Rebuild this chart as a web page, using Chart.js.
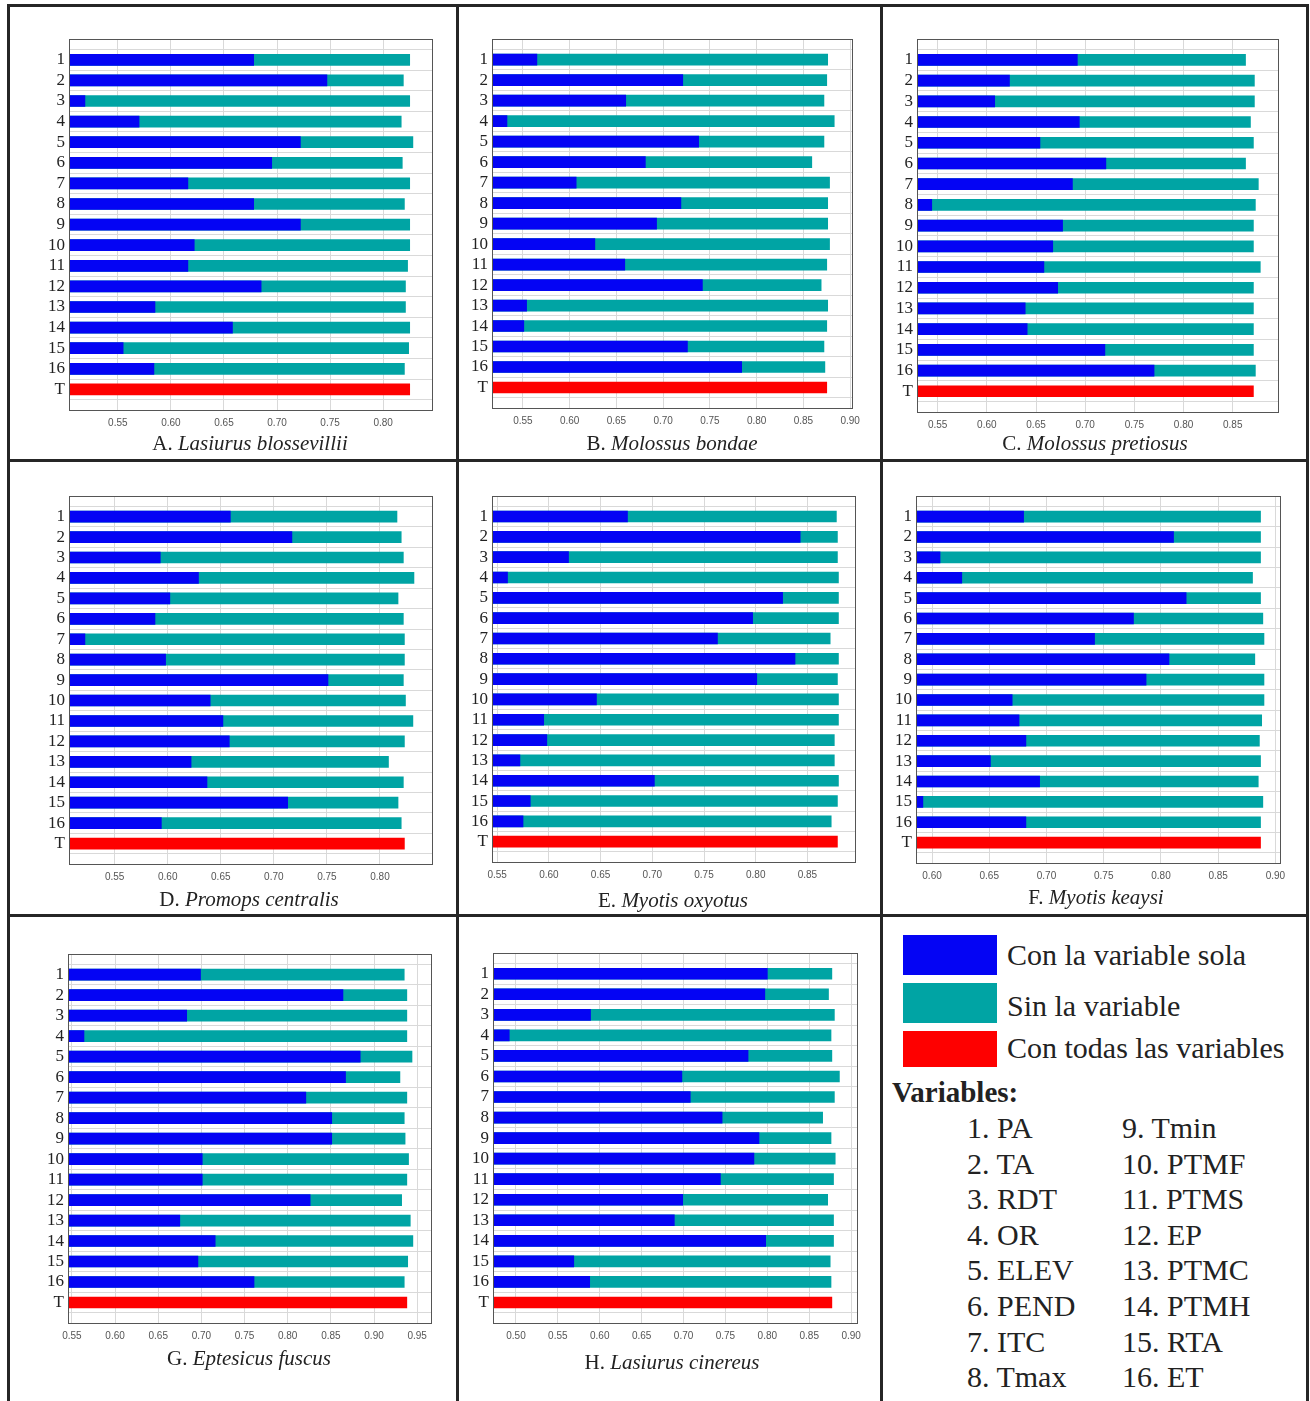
<!DOCTYPE html>
<html>
<head>
<meta charset="utf-8">
<script src="https://cdn.jsdelivr.net/npm/chart.js@4.4.0/dist/chart.umd.min.js"></script>
<style>
  body { margin: 0; background: #fff; }
  #page { position: relative; width: 1310px; height: 1401px; overflow: hidden; background: #fff;
          font-family: "Liberation Serif", "Times New Roman", serif; color: #222; }
  .line { position: absolute; background: #262626; }
  canvas { position: absolute; }
  .cap { position: absolute; width: 400px; text-align: center; font-size: 21px; line-height: 24px; white-space: nowrap; }
  .box { position: absolute; width: 94px; }
  .leg { position: absolute; font-size: 30px; line-height: 32px; white-space: nowrap; }
</style>
</head>
<body>
<div id="page"></div>
<script>
// rows of every panel: variables 1..16 and T (todas)
const rowLabels = ["1", "2", "3", "4", "5", "6", "7", "8", "9", "10", "11", "12", "13", "14", "15", "16", "T"];

// A. Lasiurus blossevillii
const solaA = [0.678, 0.747, 0.519, 0.570, 0.722, 0.695, 0.616, 0.678, 0.722, 0.622, 0.616, 0.685, 0.585, 0.658, 0.555, 0.584];
const sinA  = [0.825, 0.819, 0.825, 0.817, 0.828, 0.818, 0.825, 0.820, 0.825, 0.825, 0.823, 0.821, 0.821, 0.825, 0.824, 0.820];
// B. Molossus bondae
const solaB = [0.565, 0.721, 0.660, 0.533, 0.738, 0.681, 0.607, 0.719, 0.693, 0.627, 0.659, 0.742, 0.554, 0.551, 0.726, 0.784];
const sinB  = [0.876, 0.875, 0.872, 0.883, 0.872, 0.859, 0.878, 0.876, 0.876, 0.878, 0.875, 0.869, 0.876, 0.875, 0.872, 0.873];
// C. Molossus pretiosus
const solaC = [0.692, 0.623, 0.608, 0.694, 0.654, 0.721, 0.687, 0.544, 0.677, 0.667, 0.658, 0.672, 0.639, 0.641, 0.720, 0.770];
const sinC  = [0.863, 0.872, 0.872, 0.868, 0.871, 0.863, 0.876, 0.873, 0.871, 0.871, 0.878, 0.871, 0.871, 0.871, 0.871, 0.873];
// D. Promops centralis
const solaD = [0.659, 0.717, 0.593, 0.629, 0.602, 0.588, 0.522, 0.598, 0.751, 0.640, 0.652, 0.658, 0.622, 0.637, 0.713, 0.594];
const sinD  = [0.816, 0.820, 0.822, 0.832, 0.817, 0.822, 0.823, 0.823, 0.822, 0.824, 0.831, 0.823, 0.808, 0.822, 0.817, 0.820];
// E. Myotis oxyotus
const solaE = [0.676, 0.843, 0.619, 0.560, 0.826, 0.797, 0.763, 0.838, 0.801, 0.646, 0.595, 0.598, 0.572, 0.702, 0.582, 0.575];
const sinE  = [0.878, 0.879, 0.879, 0.880, 0.880, 0.880, 0.872, 0.880, 0.879, 0.880, 0.880, 0.876, 0.876, 0.880, 0.879, 0.873];
// F. Myotis keaysi
const solaF = [0.680, 0.811, 0.607, 0.626, 0.822, 0.776, 0.742, 0.807, 0.787, 0.670, 0.676, 0.682, 0.651, 0.694, 0.592, 0.682];
const sinF  = [0.887, 0.887, 0.887, 0.880, 0.887, 0.889, 0.890, 0.882, 0.890, 0.890, 0.888, 0.886, 0.887, 0.885, 0.889, 0.887];
// G. Eptesicus fuscus
const solaG = [0.699, 0.864, 0.683, 0.564, 0.884, 0.867, 0.821, 0.851, 0.851, 0.701, 0.701, 0.826, 0.675, 0.716, 0.696, 0.761];
const sinG  = [0.935, 0.938, 0.938, 0.938, 0.944, 0.930, 0.938, 0.935, 0.936, 0.940, 0.938, 0.932, 0.942, 0.945, 0.939, 0.935];
// H. Lasiurus cinereus
const solaH = [0.800, 0.797, 0.589, 0.492, 0.777, 0.698, 0.708, 0.746, 0.790, 0.784, 0.744, 0.699, 0.689, 0.798, 0.569, 0.588];
const sinH  = [0.877, 0.873, 0.880, 0.876, 0.877, 0.886, 0.880, 0.866, 0.876, 0.881, 0.879, 0.872, 0.879, 0.879, 0.875, 0.876];

// T bar (con todas las variables), panels A..H
const todas = [0.825, 0.875, 0.871, 0.823, 0.879, 0.887, 0.938, 0.877];

// x tick labels per panel
const ticksA = [0.55, 0.60, 0.65, 0.70, 0.75, 0.80];
const ticksB = [0.55, 0.60, 0.65, 0.70, 0.75, 0.80, 0.85, 0.90];
const ticksC = [0.55, 0.60, 0.65, 0.70, 0.75, 0.80, 0.85];
const ticksD = [0.55, 0.60, 0.65, 0.70, 0.75, 0.80];
const ticksE = [0.55, 0.60, 0.65, 0.70, 0.75, 0.80, 0.85];
const ticksF = [0.60, 0.65, 0.70, 0.75, 0.80, 0.85, 0.90];
const ticksG = [0.55, 0.60, 0.65, 0.70, 0.75, 0.80, 0.85, 0.90, 0.95];
const ticksH = [0.50, 0.55, 0.60, 0.65, 0.70, 0.75, 0.80, 0.85, 0.90];

const speciesNames = [
  ["A.", "Lasiurus blossevillii"], ["B.", "Molossus bondae"], ["C.", "Molossus pretiosus"],
  ["D.", "Promops centralis"], ["E.", "Myotis oxyotus"], ["F.", "Myotis keaysi"],
  ["G.", "Eptesicus fuscus"], ["H.", "Lasiurus cinereus"]
];
const legendLabels = ["Con la variable sola", "Sin la variable", "Con todas las variables"];
const variableNames = ["PA", "TA", "RDT", "OR", "ELEV", "PEND", "ITC", "Tmax",
                       "Tmin", "PTMF", "PTMS", "EP", "PTMC", "PTMH", "RTA", "ET"];

const BLUE = "#0404f4";
const TEAL = "#00a4a4";
const RED = "#fe0000";

const page = document.getElementById("page");

// plot boxes (pixel frame of each axes) and axis limits
const panels = [
  { sola: solaA, sin: sinA, ticks: ticksA, box: [69, 37, 363, 373],  min: 0.504, max: 0.846, cap: [250, 443] },
  { sola: solaB, sin: sinB, ticks: ticksB, box: [492, 37, 360, 371], min: 0.517, max: 0.902, cap: [672, 443] },
  { sola: solaC, sin: sinC, ticks: ticksC, box: [917, 37, 361, 375], min: 0.529, max: 0.896, cap: [1095, 443] },
  { sola: solaD, sin: sinD, ticks: ticksD, box: [69, 494, 363, 370], min: 0.507, max: 0.849, cap: [249, 899] },
  { sola: solaE, sin: sinE, ticks: ticksE, box: [492, 494, 363, 368], min: 0.545, max: 0.896, cap: [673, 900] },
  { sola: solaF, sin: sinF, ticks: ticksF, box: [916, 494, 364, 369], min: 0.586, max: 0.904, cap: [1096, 897] },
  { sola: solaG, sin: sinG, ticks: ticksG, box: [68, 952, 363, 371],  min: 0.5455, max: 0.966, cap: [249, 1358] },
  { sola: solaH, sin: sinH, ticks: ticksH, box: [493, 951, 364, 372], min: 0.4726, max: 0.907, cap: [672, 1362] }
];

// box around the plotting area
const framePlugin = {
  id: "frame",
  afterDraw(chart) {
    const a = chart.chartArea, ctx = chart.ctx;
    ctx.save();
    ctx.strokeStyle = "#555";
    ctx.lineWidth = 1;
    ctx.strokeRect(Math.round(a.left) + 0.5, Math.round(a.top) + 0.5,
                   Math.round(a.right - a.left), Math.round(a.bottom - a.top));
    ctx.restore();
  }
};

const padTop = 12, yAxisW = 40, padRight = 16, xAxisH = 26;

panels.forEach((p, i) => {
  const [bx, by, bw, bh] = p.box;
  const canvas = document.createElement("canvas");
  canvas.width = yAxisW + bw + padRight;
  canvas.height = padTop + bh + xAxisH;
  canvas.style.left = (bx - yAxisW) + "px";
  canvas.style.top = (by - padTop) + "px";
  page.appendChild(canvas);

  const tot = rowLabels.map((r) => null);
  tot[rowLabels.length - 1] = todas[i];

  new Chart(canvas, {
    type: "bar",
    data: {
      labels: ["", ...rowLabels, ""],
      datasets: [
        { label: legendLabels[0], data: [null, ...p.sola, null, null], backgroundColor: BLUE },
        { label: legendLabels[1], data: [null, ...p.sin, null, null], backgroundColor: TEAL },
        { label: legendLabels[2], data: [null, ...tot, null], backgroundColor: RED }
      ]
    },
    options: {
      indexAxis: "y",
      responsive: false,
      animation: false,
      devicePixelRatio: 1,
      layout: { padding: { top: padTop, right: padRight, left: 0, bottom: 0 } },
      datasets: { bar: { grouped: false, barThickness: 11 } },
      plugins: { legend: { display: false }, tooltip: { enabled: false } },
      scales: {
        x: {
          type: "linear",
          min: p.min,
          max: p.max,
          afterBuildTicks: (axis) => { axis.ticks = p.ticks.map((v) => ({ value: v })); },
          afterFit: (s) => { s.height = xAxisH; },
          grid: { color: "#d9d9d9", drawTicks: false },
          border: { color: "#555" },
          ticks: {
            padding: 7,
            color: "#555",
            font: { family: "Liberation Sans", size: 10 },
            callback: (v) => Number(v).toFixed(2)
          }
        },
        y: {
          type: "category",
          offset: false,
          afterFit: (s) => { s.width = yAxisW; },
          grid: { color: "#d9d9d9", drawTicks: false },
          border: { color: "#555" },
          ticks: {
            padding: 4,
            autoSkip: false,
            color: "#222",
            font: { family: "Liberation Serif", size: 17 }
          }
        }
      }
    },
    plugins: [framePlugin]
  });

  const cap = document.createElement("div");
  cap.className = "cap";
  cap.style.left = (p.cap[0] - 200) + "px";
  cap.style.top = (p.cap[1] - 12) + "px";
  cap.innerHTML = speciesNames[i][0] + " <i>" + speciesNames[i][1] + "</i>";
  page.appendChild(cap);
});

// legend panel
[BLUE, TEAL, RED].forEach((c, k) => {
  const b = document.createElement("div");
  b.className = "box";
  b.style.background = c;
  b.style.left = "903px";
  b.style.top = [935, 983, 1031][k] + "px";
  b.style.height = [40, 40, 36][k] + "px";
  page.appendChild(b);
  const t = document.createElement("div");
  t.className = "leg";
  t.style.left = "1007px";
  t.style.top = ([955, 1006, 1048][k] - 16) + "px";
  t.textContent = legendLabels[k];
  page.appendChild(t);
});

const vt = document.createElement("div");
vt.className = "leg";
vt.style.left = "892px";
vt.style.top = (1092 - 16) + "px";
vt.style.fontWeight = "bold";
vt.style.fontSize = "29px";
vt.textContent = "Variables:";
page.appendChild(vt);

variableNames.forEach((v, k) => {
  const d = document.createElement("div");
  d.className = "leg";
  d.style.left = (k < 8 ? 967 : 1122) + "px";
  d.style.top = (1128 + (k % 8) * 35.6 - 16) + "px";
  d.textContent = (k + 1) + ". " + v;
  page.appendChild(d);
});

// panel borders
[
  [7, 4, 3, 1397], [1306, 4, 3, 1397], [7, 4, 1302, 3],
  [456, 4, 3, 1397], [880, 4, 3, 1397],
  [7, 459, 1302, 3], [7, 914, 1302, 3]
].forEach(([x, y, w, h]) => {
  const l = document.createElement("div");
  l.className = "line";
  l.style.left = x + "px"; l.style.top = y + "px";
  l.style.width = w + "px"; l.style.height = h + "px";
  page.appendChild(l);
});
</script>
</body>
</html>
